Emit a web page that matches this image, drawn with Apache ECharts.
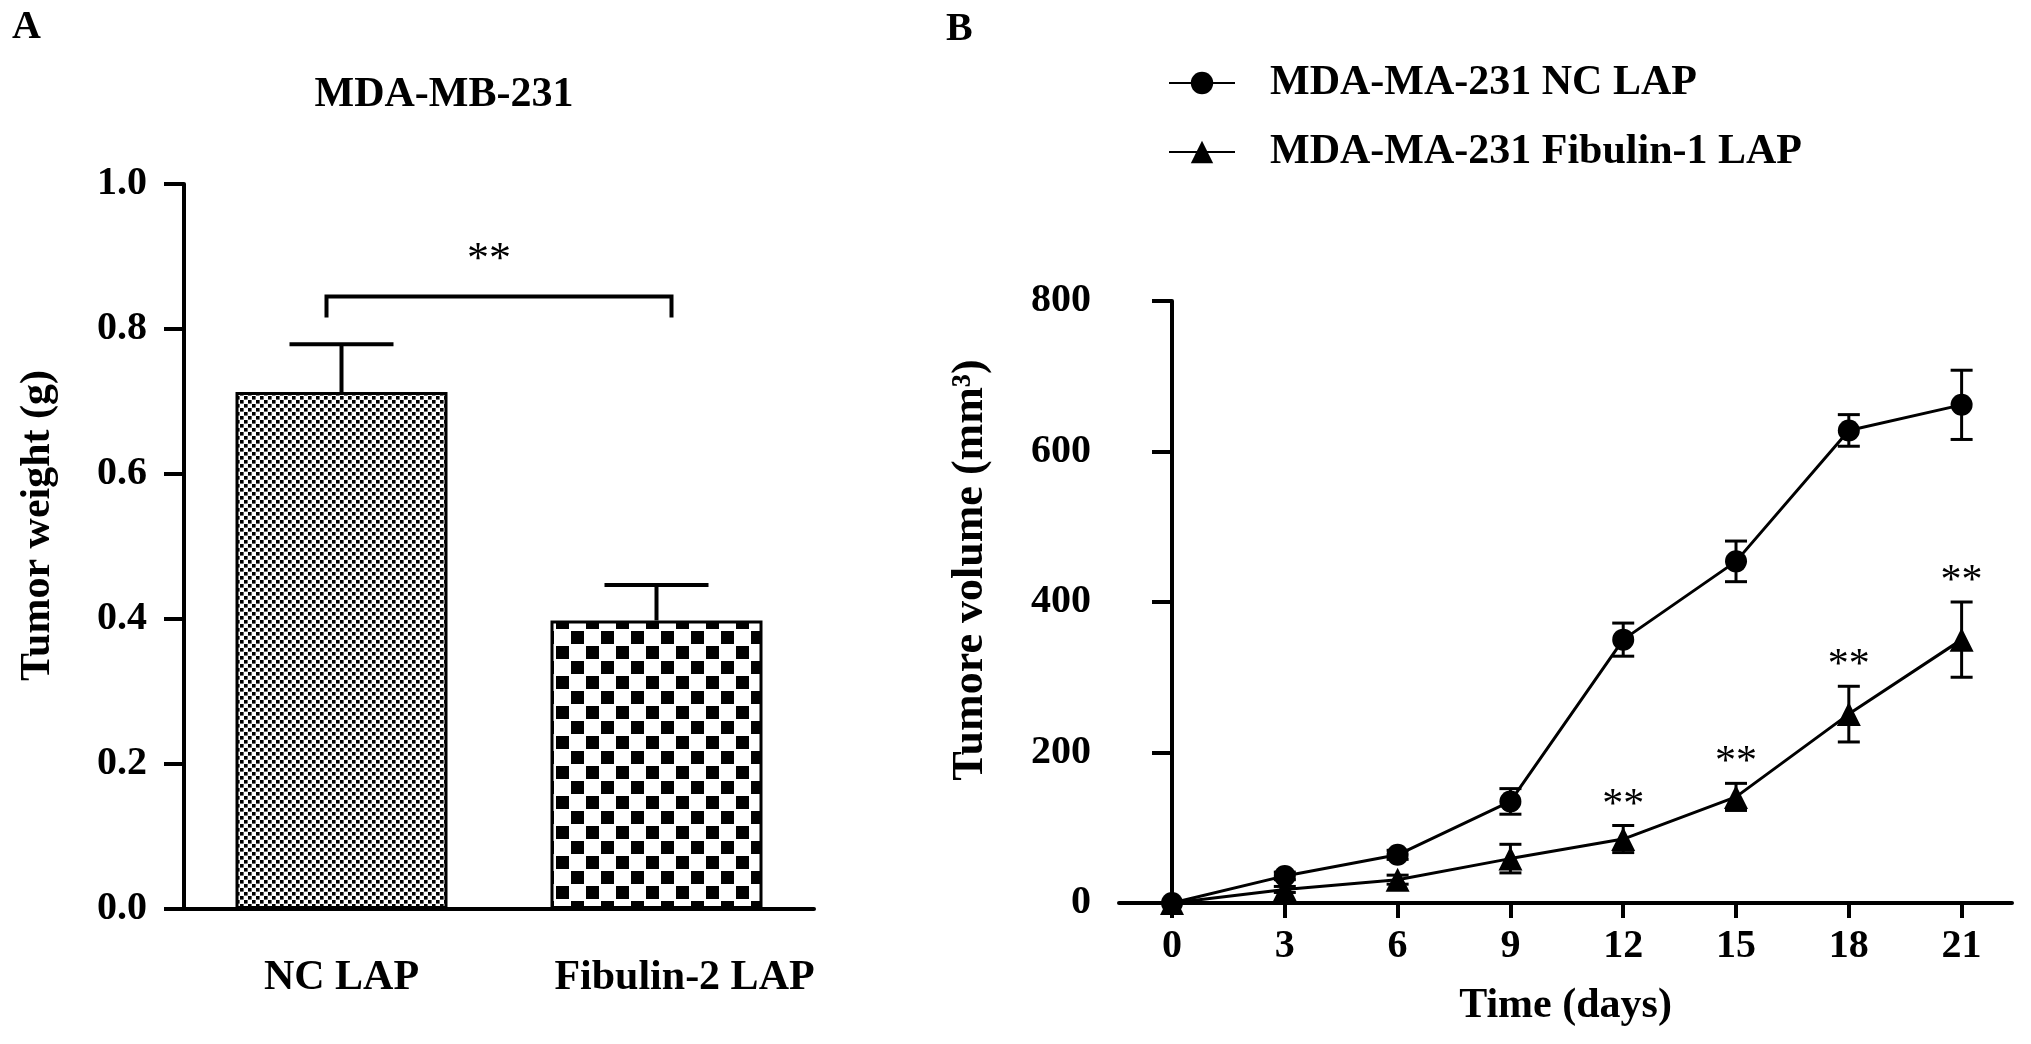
<!DOCTYPE html>
<html>
<head>
<meta charset="utf-8">
<script src="https://cdn.jsdelivr.net/npm/echarts@6/dist/echarts.min.js"></script>
<style>
html,body{margin:0;padding:0;background:#fff;}
#c{width:2031px;height:1044px;}
</style>
</head>
<body>
<div id="c"></div>
<script>
// ---------- Panel A data ----------
const weightCategories = ['NC LAP', 'Fibulin-2 LAP'];
const weightMean = [0.713, 0.398];
const weightSEM = [0.066, 0.049];
const weightTicks = [0, 0.2, 0.4, 0.6, 0.8, 1.0];
const bracketPair = [0, 1];
const bracketTop = 0.845;
const bracketLeg = 0.816;
const bracketLabel = '**';
const bracketLabelY = 0.894;

// ---------- Panel B data ----------
const days = [0, 3, 6, 9, 12, 15, 18, 21];
const volumeTicks = [0, 200, 400, 600, 800];
const ncName = 'MDA-MA-231 NC LAP';
const fibName = 'MDA-MA-231 Fibulin-1 LAP';
const ncVolume = [0, 36, 64, 135, 350, 454, 628, 662];
const ncErr = [0, 5, 6, 17, 22, 27, 21, 46];
const fibVolume = [0, 18, 31, 59, 85, 141, 251, 350];
const fibErr = [0, 4, 6, 19, 18, 18, 37, 50];
const sigDays = [12, 15, 18, 21];
const sigLabel = '**';

const FONT = "'Liberation Serif','Times New Roman',serif";
const BLACK = '#000';

function makePattern(tile, squares) {
  const c = document.createElement('canvas');
  c.width = tile; c.height = tile;
  const ctx = c.getContext('2d');
  ctx.fillStyle = '#fff';
  ctx.fillRect(0, 0, tile, tile);
  ctx.fillStyle = '#000';
  squares.forEach(s => ctx.fillRect(s[0], s[1], s[2], s[3]));
  return c;
}
const finePattern = makePattern(8, [[0, 0, 3.6, 3.6], [4, 4, 3.6, 3.6]]);
const coarsePattern = makePattern(30, [[1, 1, 13, 13], [16, 16, 13, 13]]);
const barPatterns = [finePattern, coarsePattern];

function errorBars(name, xs, means, errs, axisIdx, capHalf, lw, upperOnly) {
  return {
    type: 'custom', name: name, xAxisIndex: axisIdx, yAxisIndex: axisIdx, z: 4,
    silent: true,
    data: xs.map((x, i) => [x, means[i], errs[i]]),
    renderItem: function (params, api) {
      const x = api.value(0), m = api.value(1), e = api.value(2);
      if (!e) return null;
      const st = { stroke: BLACK, lineWidth: lw, fill: null };
      const pHi = api.coord([x, m + e]);
      const pLo = api.coord([x, upperOnly ? m : m - e]);
      const ch = [
        { type: 'line', shape: { x1: pLo[0], y1: pLo[1], x2: pHi[0], y2: pHi[1] }, style: st },
        { type: 'line', shape: { x1: pHi[0] - capHalf, y1: pHi[1], x2: pHi[0] + capHalf, y2: pHi[1] }, style: st }
      ];
      if (!upperOnly) ch.push({ type: 'line', shape: { x1: pLo[0] - capHalf, y1: pLo[1], x2: pLo[0] + capHalf, y2: pLo[1] }, style: st });
      return { type: 'group', children: ch };
    }
  };
}

const chart = echarts.init(document.getElementById('c'), null, { renderer: 'canvas' });

const catLabelStyle = { fontSize: 42, fontWeight: 'bold', fontFamily: FONT, color: BLACK };

const option = {
  backgroundColor: '#fff',
  animation: false,
  title: [
    { text: 'A', left: 12, top: 8, padding: 0, textStyle: { fontSize: 40, fontWeight: 'bold', fontFamily: FONT, color: BLACK } },
    { text: 'MDA-MB-231', left: 444, top: 74, padding: 0, textAlign: 'center', textStyle: { fontSize: 42, fontWeight: 'bold', fontFamily: FONT, color: BLACK } },
    { text: 'B', left: 946, top: 10, padding: 0, textStyle: { fontSize: 40, fontWeight: 'bold', fontFamily: FONT, color: BLACK } }
  ],
  legend: {
    data: [ncName, fibName],
    orient: 'vertical', left: 1163, top: 57,
    itemWidth: 66, itemHeight: 28, itemGap: 27,
    selectedMode: false,
    textStyle: { fontSize: 42, fontWeight: 'bold', fontFamily: FONT, color: BLACK, padding: [0, 0, 0, 30], lineHeight: 42 }
  },
  grid: [
    { left: 184, top: 184, width: 630, height: 725 },
    { left: 1119, top: 301, width: 893, height: 602 }
  ],
  xAxis: [
    {
      gridIndex: 0, type: 'category', data: weightCategories,
      axisLine: { lineStyle: { color: BLACK, width: 4 } },
      axisTick: { alignWithLabel: true, length: 23, lineStyle: { color: BLACK, width: 4 } },
      axisLabel: {
        interval: 0, fontSize: 42, fontWeight: 'bold', fontFamily: FONT, color: BLACK, margin: 48,
        formatter: (v, i) => (i === 1 ? '{s|' + v + '}' : '{n|' + v + '}'),
        rich: {
          n: catLabelStyle,
          s: Object.assign({ padding: [0, 0, 0, 56] }, catLabelStyle)
        }
      },
      splitLine: { show: false }
    },
    {
      gridIndex: 1, type: 'value', min: -1.41, max: 22.34,
      axisLine: { onZero: false, lineStyle: { color: BLACK, width: 4 } },
      axisTick: { customValues: days, length: 15, lineStyle: { color: BLACK, width: 4 } },
      axisLabel: { customValues: days, fontSize: 40, fontWeight: 'bold', fontFamily: FONT, color: BLACK, margin: 24 },
      splitLine: { show: false },
      name: 'Time (days)', nameLocation: 'middle', nameGap: 82,
      nameTextStyle: { fontSize: 42, fontWeight: 'bold', fontFamily: FONT, color: BLACK }
    }
  ],
  yAxis: [
    {
      gridIndex: 0, type: 'value', min: weightTicks[0], max: weightTicks[weightTicks.length - 1],
      interval: weightTicks[1] - weightTicks[0],
      axisLine: { show: true, lineStyle: { color: BLACK, width: 4 } },
      axisTick: { show: true, length: 20, lineStyle: { color: BLACK, width: 4 } },
      axisLabel: { formatter: v => v.toFixed(1), fontSize: 40, fontWeight: 'bold', fontFamily: FONT, color: BLACK, margin: 37 },
      splitLine: { show: false },
      name: 'Tumor weight (g)', nameLocation: 'middle', nameGap: 125,
      nameTextStyle: { fontSize: 42, fontWeight: 'bold', fontFamily: FONT, color: BLACK, padding: [0, 0, 0, 42] }
    },
    {
      gridIndex: 1, type: 'value', min: volumeTicks[0], max: volumeTicks[volumeTicks.length - 1],
      interval: volumeTicks[1] - volumeTicks[0],
      axisLine: { show: true, lineStyle: { color: BLACK, width: 4 } },
      axisTick: { show: true, length: 20, lineStyle: { color: BLACK, width: 4 } },
      axisLabel: { fontSize: 40, fontWeight: 'bold', fontFamily: FONT, color: BLACK, margin: 28 },
      splitLine: { show: false },
      name: 'Tumore volume (mm³)', nameLocation: 'middle', nameGap: 126,
      nameTextStyle: { fontSize: 44, fontWeight: 'bold', fontFamily: FONT, color: BLACK, padding: [0, 0, 0, 64] }
    }
  ],
  series: [
    {
      type: 'bar', name: 'Tumor weight', xAxisIndex: 0, yAxisIndex: 0, barWidth: 212, z: 2,
      data: weightMean.map((v, i) => ({ value: v, itemStyle: { color: { image: barPatterns[i], repeat: 'repeat' } } })),
      itemStyle: { borderColor: BLACK, borderWidth: 3 }
    },
    errorBars('weight err', [0, 1], weightMean, weightSEM, 0, 52, 4, true),
    {
      type: 'custom', name: 'bracket', xAxisIndex: 0, yAxisIndex: 0, z: 5, silent: true,
      data: [[bracketPair[0], bracketPair[1], bracketTop, bracketLeg, bracketLabelY]],
      renderItem: function (params, api) {
        const a = api.coord([api.value(0), api.value(2)]);
        const b = api.coord([api.value(1), api.value(2)]);
        const legY = api.coord([api.value(0), api.value(3)])[1];
        const lblY = api.coord([api.value(0), api.value(4)])[1];
        const off = 15;
        return {
          type: 'group', children: [
            { type: 'polyline', shape: { points: [[a[0] - off, legY], [a[0] - off, a[1]], [b[0] + off, b[1]], [b[0] + off, legY]] },
              style: { stroke: BLACK, lineWidth: 4, fill: null } },
            { type: 'text', x: (a[0] + b[0]) / 2 - 10, y: lblY,
              style: { text: bracketLabel, fontSize: 44, fontFamily: FONT, fill: BLACK, align: 'center', verticalAlign: 'middle' } }
          ]
        };
      }
    },
    {
      type: 'line', name: ncName, xAxisIndex: 1, yAxisIndex: 1, z: 6,
      data: days.map((d, i) => [d, ncVolume[i]]),
      symbol: 'circle', symbolSize: 22,
      lineStyle: { color: BLACK, width: 3 }, itemStyle: { color: BLACK }
    },
    {
      type: 'line', name: fibName, xAxisIndex: 1, yAxisIndex: 1, z: 6,
      data: days.map((d, i) => [d, fibVolume[i]]),
      symbol: 'triangle', symbolSize: 24,
      lineStyle: { color: BLACK, width: 3 }, itemStyle: { color: BLACK }
    },
    errorBars('nc err', days, ncVolume, ncErr, 1, 11, 3, false),
    errorBars('fib err', days, fibVolume, fibErr, 1, 11, 3, false),
    {
      type: 'custom', name: 'significance', xAxisIndex: 1, yAxisIndex: 1, z: 7, silent: true,
      data: sigDays.map(d => { const i = days.indexOf(d); return [d, fibVolume[i] + fibErr[i]]; }),
      renderItem: function (params, api) {
        const p = api.coord([api.value(0), api.value(1)]);
        return { type: 'text', x: p[0], y: p[1] - 20,
          style: { text: sigLabel, fontSize: 42, fontFamily: FONT, fill: BLACK, align: 'center', verticalAlign: 'middle' } };
      }
    }
  ]
};
chart.setOption(option);
</script>
</body>
</html>
